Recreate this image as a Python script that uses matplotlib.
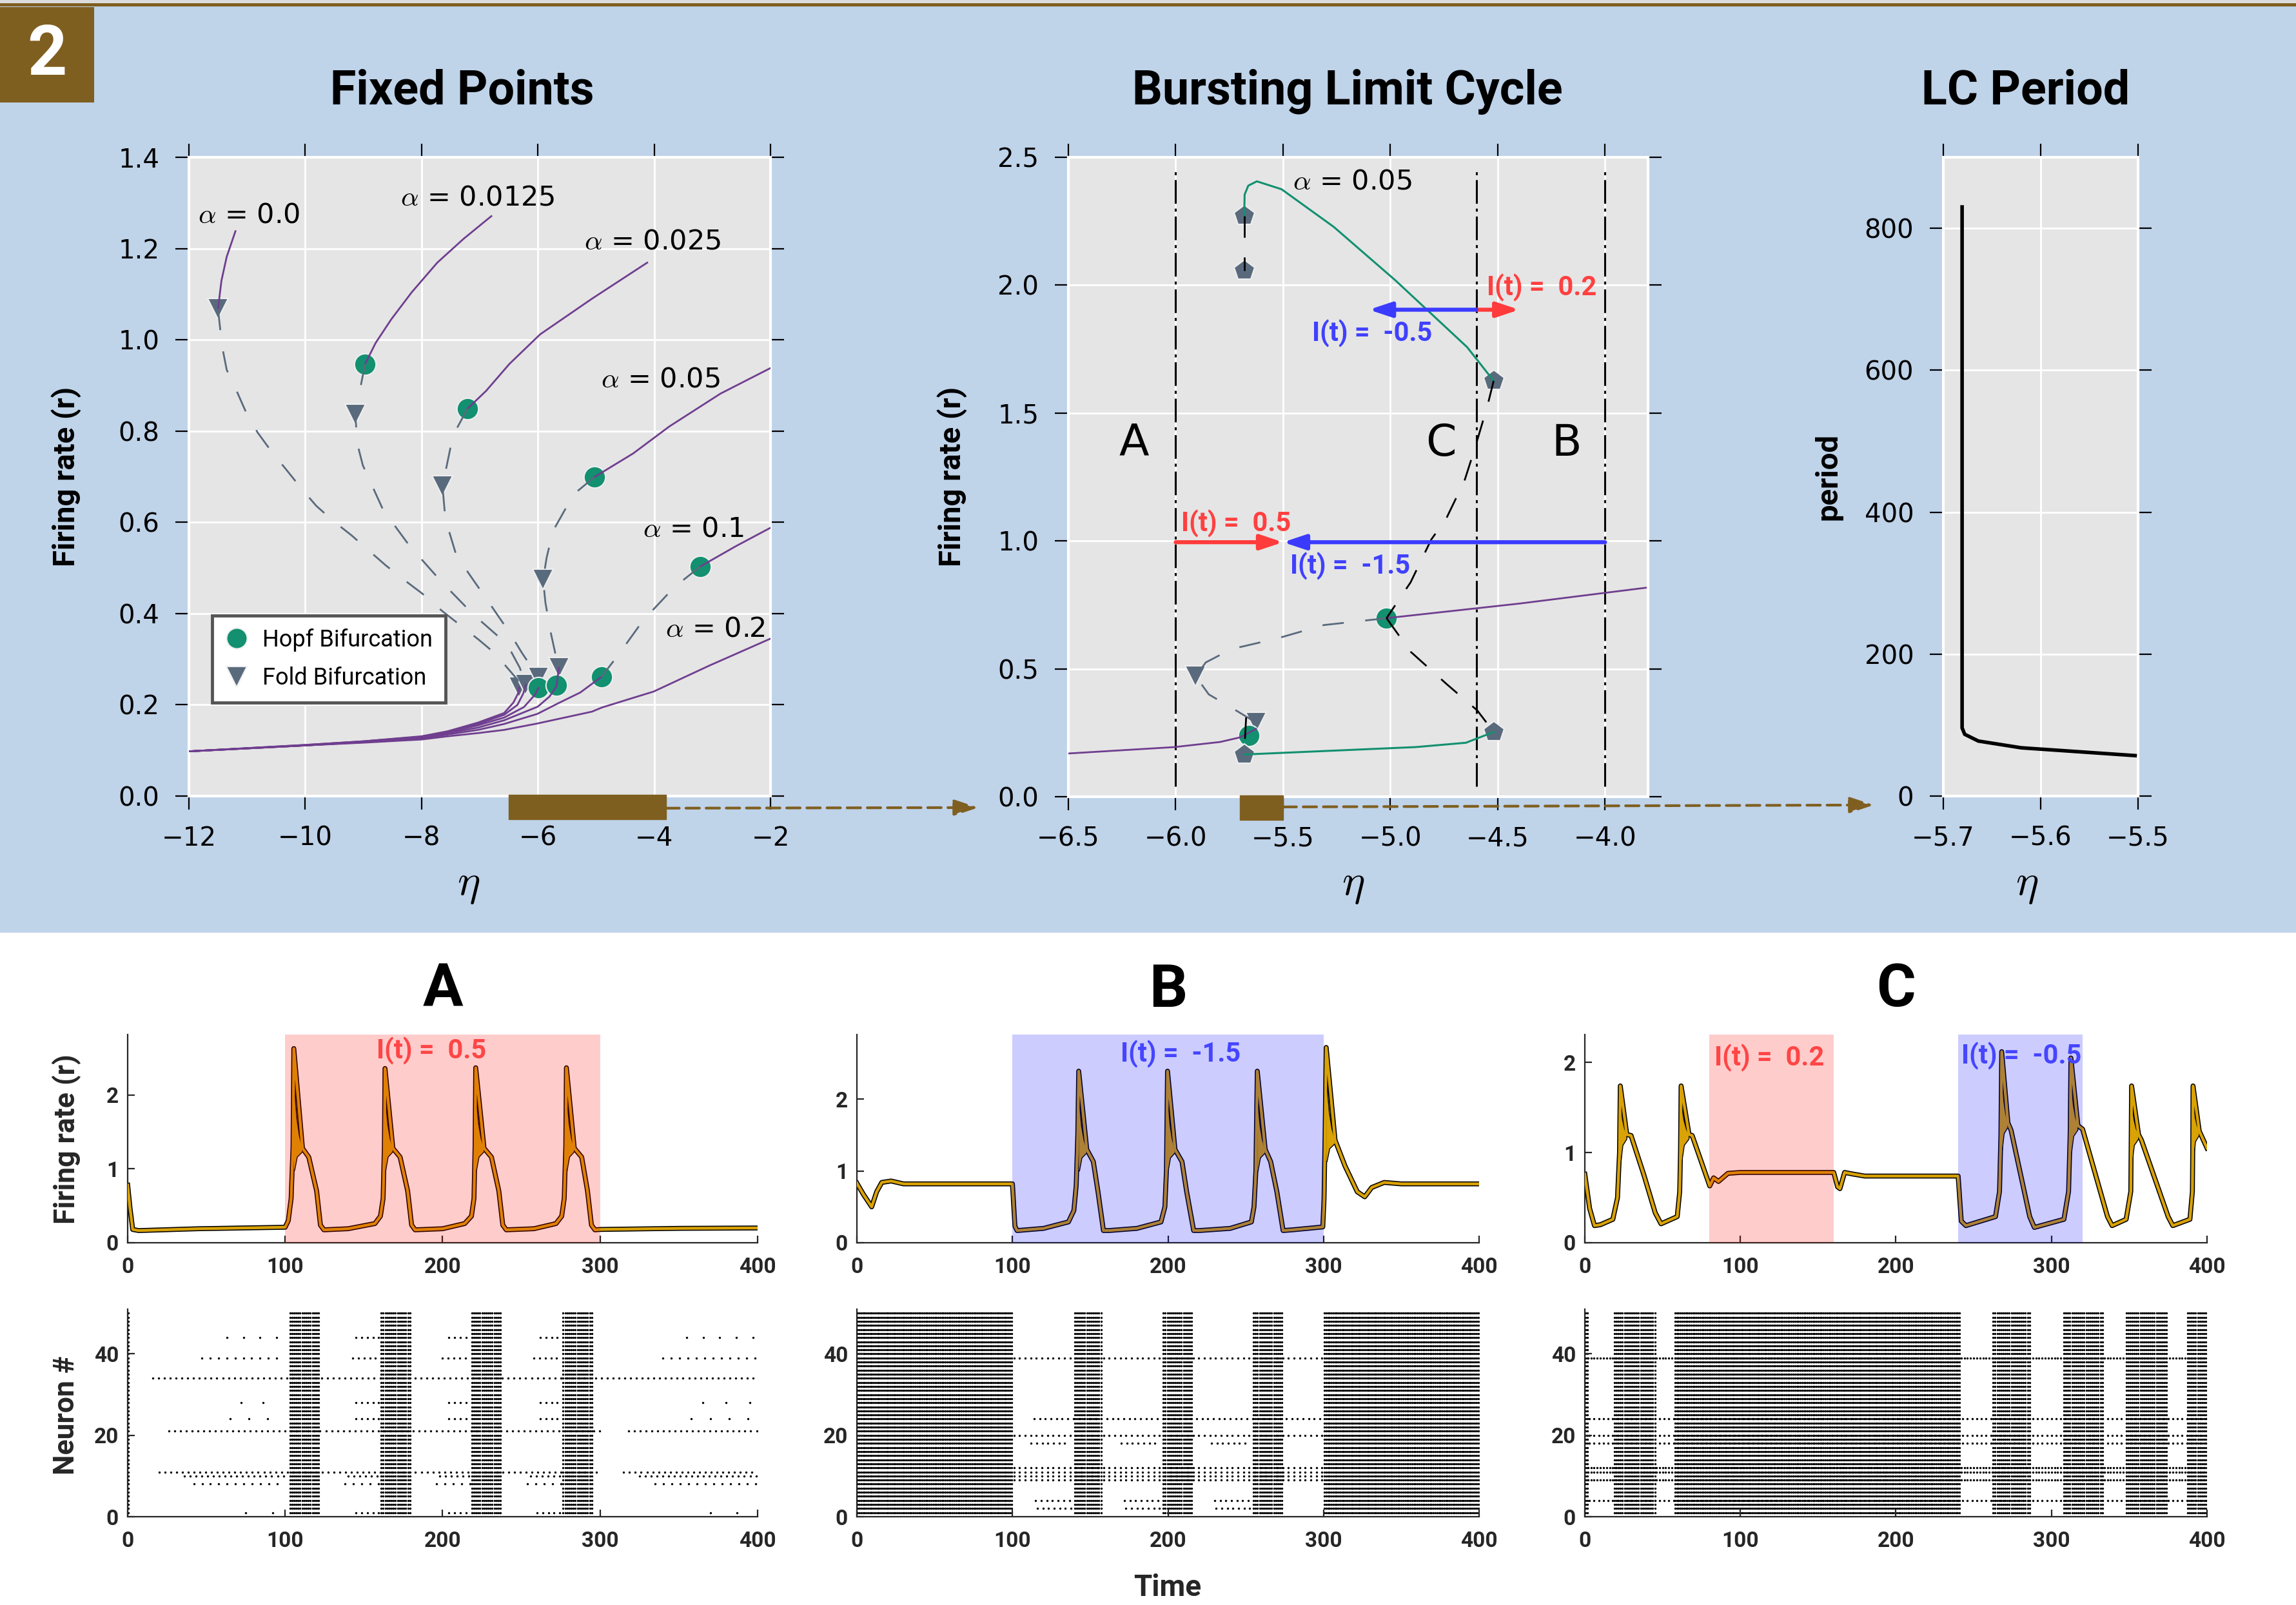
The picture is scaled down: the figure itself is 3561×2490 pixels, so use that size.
import numpy as np
import matplotlib
matplotlib.use("Agg")
import matplotlib.pyplot as plt
from matplotlib.patches import Rectangle, Polygon, ConnectionPatch
from matplotlib.lines import Line2D
from matplotlib.font_manager import FontProperties

plt.rcParams["font.family"] = ["DejaVu Sans"]
plt.rcParams["mathtext.fontset"] = "cm"

# ---------------- Fixed Points (one entry per alpha) ----------------
alpha_text = ["0.0", "0.0125", "0.025", "0.05", "0.1", "0.2"]
label_eta = [-11.84, -8.36, -5.20, -4.92, -4.20, -3.81]
label_r = [1.273, 1.312, 1.215, 0.914, 0.585, 0.366]

upper_eta = [
    [-11.20, -11.35, -11.44, -11.50],
    [-6.80, -7.28, -7.73, -8.17, -8.52, -8.79, -8.97],
    [-4.12, -5.07, -5.96, -6.49, -6.89, -7.21],
    [-2.0, -2.86, -3.74, -4.36, -5.03],
    [-2.0, -2.59, -3.21],
    [-2.0, -3.05, -4.01, -4.24, -4.90, -5.07, -6.01, -6.58, -7.03, -7.55, -8.0, -9.0, -10.0, -12.0],
]
upper_r = [
    [1.238, 1.182, 1.130, 1.068],
    [1.271, 1.221, 1.169, 1.104, 1.045, 0.993, 0.947],
    [1.169, 1.090, 1.012, 0.947, 0.888, 0.849],
    [0.938, 0.882, 0.810, 0.751, 0.699],
    [0.588, 0.548, 0.503],
    [0.345, 0.286, 0.229, 0.220, 0.194, 0.185, 0.159, 0.145, 0.138, 0.131, 0.124, 0.117, 0.111, 0.098],
]
middle_eta = [
    [-11.50, -11.43, -11.35, -11.18, -11.0, -10.82, -10.58, -10.33, -10.04, -9.81,
     -9.50, -9.20, -8.88, -8.61, -8.26, -7.99, -7.64, -7.35, -7.02, -6.74, -6.35, -6.32],
    [-8.97, -9.06, -9.14, -9.10, -9.01, -8.66, -8.21, -7.66, -7.11, -6.53, -6.31, -6.21],
    [-7.21, -7.46, -7.64, -7.59, -7.42, -7.20, -6.84, -6.49, -6.27, -5.99],
    [-5.03, -5.34, -5.51, -5.74, -5.85, -5.91, -5.87, -5.78, -5.69, -5.64],
    [-3.21, -3.66, -4.19, -4.63, -4.91],
    [],
]
middle_r = [
    [1.068, 0.986, 0.934, 0.888, 0.836, 0.797, 0.755, 0.716, 0.670, 0.636,
     0.601, 0.571, 0.535, 0.505, 0.470, 0.444, 0.405, 0.376, 0.343, 0.313, 0.255, 0.239],
    [0.947, 0.890, 0.836, 0.770, 0.725, 0.627, 0.549, 0.470, 0.398, 0.333, 0.281, 0.244],
    [0.849, 0.790, 0.679, 0.607, 0.535, 0.490, 0.424, 0.359, 0.313, 0.260],
    [0.699, 0.666, 0.633, 0.581, 0.522, 0.474, 0.424, 0.359, 0.307, 0.281],
    [0.503, 0.457, 0.385, 0.307, 0.261],
    [],
]
lower_eta = [
    [-12.0, -10.0, -9.0, -8.0, -7.55, -7.03, -6.58, -6.42, -6.34, -6.32],
    [-12.0, -10.0, -9.0, -8.0, -7.55, -7.03, -6.58, -6.35, -6.25, -6.21],
    [-12.0, -10.0, -9.0, -8.0, -7.55, -7.03, -6.58, -6.24, -6.05, -5.99],
    [-12.0, -10.0, -9.0, -8.0, -7.55, -7.03, -6.58, -6.00, -5.80, -5.68, -5.64],
    [-12.0, -10.0, -9.0, -8.0, -7.55, -7.03, -6.58, -6.01, -5.64, -5.27, -4.91],
    [],
]
lower_r = [
    [0.098, 0.112, 0.120, 0.131, 0.142, 0.161, 0.182, 0.205, 0.225, 0.239],
    [0.098, 0.112, 0.120, 0.130, 0.141, 0.158, 0.178, 0.200, 0.225, 0.244],
    [0.098, 0.111, 0.119, 0.129, 0.140, 0.155, 0.172, 0.195, 0.222, 0.237],
    [0.098, 0.111, 0.119, 0.128, 0.138, 0.150, 0.166, 0.196, 0.218, 0.240, 0.281],
    [0.098, 0.111, 0.118, 0.126, 0.135, 0.145, 0.158, 0.180, 0.204, 0.227, 0.261],
    [],
]
hopf_eta = [-8.97, -7.21, -5.03, -3.21, -5.99, -5.68, -4.91]
hopf_r = [0.947, 0.849, 0.699, 0.503, 0.237, 0.243, 0.261]
fold_eta = [-11.50, -9.14, -7.64, -5.91, -6.32, -6.21, -5.99, -5.64]
fold_r = [1.068, 0.836, 0.679, 0.474, 0.239, 0.244, 0.260, 0.281]

# ---------------- Bursting limit cycle (alpha = 0.05) ----------------
lc_up_eta = [-5.681, -5.679, -5.662, -5.622, -5.507, -5.264, -4.977, -4.643, -4.519]
lc_up_r = [2.270, 2.354, 2.389, 2.406, 2.375, 2.228, 2.019, 1.758, 1.626]
lc_low_eta = [-5.681, -4.882, -4.648, -4.519]
lc_low_r = [0.165, 0.194, 0.211, 0.253]
ulc_up_eta = [-4.519, -4.548, -4.607, -4.655, -4.739, -4.810, -4.906, -5.018]
ulc_up_r = [1.626, 1.528, 1.361, 1.235, 1.089, 1.005, 0.838, 0.698]
ulc_low_eta = [-5.018, -4.906, -4.739, -4.595, -4.519]
ulc_low_r = [0.698, 0.567, 0.441, 0.337, 0.253]
ulc_top_eta = [-5.681, -5.681]
ulc_top_r = [2.270, 2.056]
ulc_bot_eta = [-5.672, -5.681]
ulc_bot_r = [0.310, 0.165]
lc_pent_eta = [-5.681, -5.681, -4.519, -5.681, -4.519]
lc_pent_r = [2.270, 2.056, 1.626, 0.165, 0.253]
fp05_up_eta = [-3.81, -4.40, -5.018]
fp05_up_r = [0.817, 0.755, 0.698]
fp05_mid_eta = [-5.018, -5.311, -5.526, -5.741, -5.860, -5.907, -5.846, -5.750, -5.626]
fp05_mid_r = [0.698, 0.671, 0.619, 0.577, 0.525, 0.471, 0.400, 0.353, 0.290]
fp05_low_eta = [-6.5, -6.006, -5.793, -5.70, -5.626]
fp05_low_r = [0.169, 0.194, 0.214, 0.232, 0.265]
lc_hopf_eta = [-5.018, -5.659]
lc_hopf_r = [0.698, 0.240]
lc_fold_eta = [-5.907, -5.626]
lc_fold_r = [0.471, 0.290]
region_eta = [-6.0, -4.6, -4.0]
region_names = ["A", "C", "B"]
stim_start = [-4.6, -4.6, -6.0, -4.0]
stim_level = [0.2, -0.5, 0.5, -1.5]
stim_r = [1.904, 1.904, 0.995, 0.995]

# ---------------- LC period ----------------
period_eta = [-5.6807, -5.6807, -5.678, -5.664, -5.620, -5.503]
period_T = [830, 96, 87, 77.5, 68, 57]

# ---------------- bottom: firing-rate traces (t, r) ----------------
ts_A_t = [0, 1.5, 3.2, 7, 45, 100, 102, 103.8, 105, 105.5, 111, 115, 120, 122.4, 124.6,
          140, 157, 160.5, 162.2, 163, 163.4, 168.4, 173, 177.8, 180.3, 182.5,
          200, 214, 218.3, 219.9, 220.6, 221, 226.3, 231, 235.7, 238.2, 240.4,
          258, 272, 275.6, 277.2, 278.2, 278.6, 283.6, 288.3, 292, 294.5, 296.7,
          300, 350, 400]
ts_A_r = [0.78, 0.47, 0.18, 0.165, 0.19, 0.21, 0.30, 0.60, 1.30, 2.63, 1.28, 1.16, 0.70, 0.24, 0.175,
          0.19, 0.26, 0.36, 0.60, 1.30, 2.36, 1.28, 1.16, 0.70, 0.24, 0.175,
          0.19, 0.26, 0.36, 0.60, 1.30, 2.37, 1.28, 1.16, 0.70, 0.24, 0.175,
          0.19, 0.26, 0.36, 0.60, 1.30, 2.37, 1.28, 1.16, 0.70, 0.24, 0.175,
          0.18, 0.195, 0.20]
osc_A = [(105.5, 2.63, 111, 1.28), (163.4, 2.36, 168.4, 1.28),
         (221, 2.37, 226.3, 1.28), (278.6, 2.37, 283.6, 1.28)]
ts_B_t = [0, 4, 9.5, 12.7, 16, 22, 30, 100, 101.6, 103, 120, 136, 139.5, 141, 142, 142.6,
          147.8, 152, 155, 158.5, 162, 180, 195.5, 198, 199, 199.7, 204.5, 209, 212, 216.5,
          220, 240, 253.6, 255.3, 256.5, 257.4, 262.5, 266, 270, 274, 280, 299.5, 300.3, 301,
          301.7, 307.4, 313.8, 321.7, 326.5, 331, 339, 350, 400]
ts_B_r = [0.83, 0.68, 0.50, 0.71, 0.84, 0.86, 0.82, 0.82, 0.23, 0.17, 0.20, 0.29, 0.45, 0.80, 1.50, 2.39,
          1.30, 1.13, 0.71, 0.17, 0.17, 0.20, 0.29, 0.50, 1.00, 2.39, 1.30, 1.13, 0.71, 0.17,
          0.17, 0.20, 0.29, 0.50, 1.00, 2.39, 1.30, 1.13, 0.71, 0.17, 0.18, 0.22, 0.60, 1.50,
          2.72, 1.43, 1.07, 0.71, 0.64, 0.77, 0.84, 0.82, 0.82]
osc_B = [(142.6, 2.39, 147.8, 1.30), (199.7, 2.39, 204.5, 1.30),
         (257.4, 2.39, 262.5, 1.30), (301.7, 2.72, 307.4, 1.43)]
ts_C_t = [0, 3.1, 6.2, 10, 18, 21, 22.3, 22.8, 27, 29.7, 38, 45.3, 49, 59.4, 61, 61.5, 61.9,
          67, 69, 80.3, 82.8, 85.9, 92, 100, 160, 162.5, 164, 167, 173, 180, 240,
          242, 245, 264, 266.6, 267.5, 268, 272, 274, 286, 289, 308, 311, 312, 312.5, 317, 320,
          336, 339, 348, 351, 351.2, 351.5, 356, 357.8, 375, 378, 389, 390.6, 390.8, 391, 395, 400]
ts_C_r = [0.76, 0.38, 0.19, 0.20, 0.26, 0.50, 1.00, 1.74, 1.20, 1.19, 0.75, 0.33, 0.21, 0.29, 0.57, 1.00, 1.74,
          1.20, 1.19, 0.63, 0.72, 0.68, 0.77, 0.78, 0.78, 0.62, 0.60, 0.78, 0.76, 0.74, 0.74,
          0.24, 0.19, 0.29, 0.57, 1.20, 2.12, 1.33, 1.25, 0.29, 0.17, 0.26, 0.57, 1.20, 2.05, 1.30, 1.26,
          0.29, 0.19, 0.26, 0.57, 1.00, 1.74, 1.20, 1.14, 0.29, 0.19, 0.26, 0.57, 1.00, 1.74, 1.24, 1.05]
osc_C = [(22.8, 1.74, 27, 1.20), (61.9, 1.74, 67, 1.20), (268, 2.12, 272, 1.33),
         (312.5, 2.05, 317, 1.30), (351.5, 1.74, 356, 1.20), (391, 1.74, 395, 1.24)]
ymax_ts = [2.82, 2.90, 2.31]

stim_A = [(100, 300, 0.5)]
stim_B = [(100, 300, -1.5)]
stim_C = [(80, 160, 0.2), (240, 320, -0.5)]

# ---------------- bottom: rasters ----------------
# windows in which all 50 neurons fire: (start, end, inter-spike interval)
raster_A_all = [(0.5, 2.0, 1.5), (103.0, 121.5, 1.3), (161.0, 180.0, 1.3), (218.5, 238.0, 1.3), (276.5, 295.5, 1.3)]
raster_B_all = [(0.5, 100.5, 1.15), (140.0, 157.5, 1.3), (197.0, 215.5, 1.3), (255.0, 273.5, 1.3), (300.5, 400.0, 1.15)]
raster_C_all = [(0.5, 3.0, 1.3), (19.0, 45.5, 1.3), (58.0, 242.0, 1.15), (262.5, 286.0, 1.3),
                (308.0, 333.0, 1.3), (348.0, 375.0, 1.3), (387.5, 400.0, 1.3)]
# single neurons firing outside bursts: (neuron, start, end, interval)
raster_A_rows = [
    (44, 63, 100, 10.5), (44, 145, 160, 3.6), (44, 204, 218, 3.6), (44, 262, 276, 3.6), (44, 355, 400, 10.5),
    (39, 47, 100, 5.3), (39, 143, 160, 3.6), (39, 200, 218, 3.6), (39, 258, 276, 3.6), (39, 340, 400, 5.3),
    (34, 16, 400, 3.7),
    (28, 72, 90, 14.0), (28, 145, 160, 3.6), (28, 204, 218, 3.6), (28, 262, 276, 3.6), (28, 365, 400, 15.0),
    (24, 65, 100, 12.0), (24, 145, 160, 3.6), (24, 204, 218, 3.6), (24, 262, 276, 3.6), (24, 358, 400, 12.0),
    (21, 26, 300, 3.7), (21, 318, 400, 3.7),
    (11, 20, 300, 3.7), (11, 315, 400, 3.7),
    (10, 36, 100, 3.7), (10, 140, 160, 3.7), (10, 198, 218, 3.7), (10, 256, 276, 3.7), (10, 325, 400, 3.7),
    (8, 42, 100, 5.3), (8, 138, 160, 5.3), (8, 196, 218, 5.3), (8, 254, 276, 5.3), (8, 335, 400, 5.3),
    (1, 75, 95, 17.0), (1, 145, 160, 3.6), (1, 204, 218, 3.6), (1, 260, 276, 3.6), (1, 370, 390, 17.0),
]
raster_B_rows = [
    (39, 101, 300, 3.6), (24, 114, 300, 3.6), (20, 101, 300, 3.6),
    (18, 112, 136, 3.6), (18, 170, 195, 3.6), (18, 228, 253, 3.6),
    (12, 101, 300, 3.6), (11, 101, 300, 3.6), (10, 101, 300, 3.6), (9, 101, 300, 3.6),
    (4, 115, 139, 3.6), (4, 172, 196, 3.6), (4, 230, 254, 3.6),
    (2, 116, 139, 3.6), (2, 173, 196, 3.6), (2, 231, 254, 3.6),
]
raster_C_rows = [
    (39, 0, 400, 2.0), (24, 0, 400, 3.0), (20, 0, 400, 3.0), (18, 0, 400, 3.0),
    (12, 0, 400, 2.0), (11, 0, 400, 2.0), (9, 0, 400, 2.0), (4, 0, 400, 3.0),
]
n_neurons = 50

# ---------------- styling ----------------
W, H = 3562, 2490
BLUE_BG = "#bfd3e9"
BROWN = "#7f5f20"
PURPLE = "#6f3e8f"
GREEN = "#12906f"
SLATE = "#5a6a7d"
GOLD = "#d9a205"
DARK = "#262626"
ROBOTO = ["Roboto", "DejaVu Sans"]

fig = plt.figure(figsize=(W / 100, H / 100), dpi=100, facecolor="white")


def fx(x):
    return x / W


def fy(y):
    return 1 - y / H


def add_ax(x0, y0, x1, y1):
    return fig.add_axes([fx(x0), fy(y1), (x1 - x0) / W, (y1 - y0) / H])


def band(y0, y1, color, x1=W, z=-3):
    fig.add_artist(Rectangle((0, fy(y1)), x1 / W, (y1 - y0) / H, transform=fig.transFigure,
                             color=color, lw=0, zorder=z))


band(0, 5, "#dcdcdc")
band(5, 10, BROWN)
band(10, 1447, BLUE_BG)
band(11, 159, BROWN, x1=146, z=-2)
fig.text(fx(73), fy(86), "2", color="white", fontsize=77, fontweight="bold", family=ROBOTO,
         ha="center", va="center")


def style_top(ax):
    ax.set_facecolor("#e5e5e5")
    for s in ax.spines.values():
        s.set_color("white")
        s.set_linewidth(3)
    ax.grid(True, color="white", lw=2)
    ax.set_axisbelow(True)
    ax.tick_params(direction="out", length=15, width=1.6, color="black", pad=18,
                   labelsize=29, top=True, right=True)


ls_dash = (0, (12, 12))
mk = dict(mec="#eeeeee", mew=1.5, zorder=3)

# ---- panel 1: fixed points ----
ax1 = add_ax(293, 244, 1195, 1235)
style_top(ax1)
for i, a in enumerate(alpha_text):
    ax1.plot(upper_eta[i], upper_r[i], color=PURPLE, lw=2, zorder=4)
    ax1.plot(lower_eta[i], lower_r[i], color=PURPLE, lw=2, zorder=4)
    ax1.plot(middle_eta[i], middle_r[i], color=SLATE, lw=2, ls=ls_dash, zorder=4)
    ax1.text(label_eta[i], label_r[i], r"$\alpha$ = " + a, fontsize=31, va="center", ha="left")
ax1.plot(fold_eta, fold_r, "v", ms=23, color=SLATE, **mk)
ax1.plot(hopf_eta, hopf_r, "o", ms=24, color=GREEN, **mk)
ax1.set_xlim(-12, -2)
ax1.set_ylim(0, 1.4)
ax1.set_xticks(range(-12, -1, 2))
ax1.set_yticks([0.0, 0.2, 0.4, 0.6, 0.8, 1.0, 1.2, 1.4])
handles = [Line2D([], [], ls="none", marker="o", ms=23, color=GREEN, mec="#eeeeee", mew=1.5),
           Line2D([], [], ls="none", marker="v", ms=23, color=SLATE, mec="#eeeeee", mew=1.5)]
leg = ax1.legend(handles, ["Hopf Bifurcation", "Fold Bifurcation"], loc="lower left",
                 bbox_to_anchor=(0.02, 0.128), prop=FontProperties(family=ROBOTO, size=26),
                 frameon=True, fancybox=False, framealpha=1, facecolor="white", edgecolor="#555555",
                 handlelength=1.0, handletextpad=0.6, borderpad=0.55, labelspacing=0.65)
leg.get_frame().set_linewidth(3.5)

# ---- panel 2: bursting limit cycle ----
ax2 = add_ax(1657, 244, 2556, 1236)
style_top(ax2)
for e in region_eta:
    ax2.axvline(e, ymin=0.016, ymax=0.98, color="black", lw=2.2, ls=(0, (12, 2.5, 1.5, 2.5)), zorder=2)
ax2.plot(fp05_up_eta, fp05_up_r, color=PURPLE, lw=2, zorder=4)
ax2.plot(fp05_low_eta, fp05_low_r, color=PURPLE, lw=2, zorder=4)
ax2.plot(fp05_mid_eta, fp05_mid_r, color=SLATE, lw=2, ls=ls_dash, zorder=4)
ax2.plot(lc_up_eta, lc_up_r, color=GREEN, lw=2.2, zorder=4)
ax2.plot(lc_low_eta, lc_low_r, color=GREEN, lw=2.2, zorder=4)
for xs, ys in [(ulc_up_eta, ulc_up_r), (ulc_low_eta, ulc_low_r), (ulc_top_eta, ulc_top_r), (ulc_bot_eta, ulc_bot_r)]:
    ax2.plot(xs, ys, color="black", lw=2, ls=(0, (12, 11)), zorder=4)
ax2.plot(lc_fold_eta, lc_fold_r, "v", ms=23, color=SLATE, **mk)
ax2.plot(lc_hopf_eta, lc_hopf_r, "o", ms=24, color=GREEN, **mk)
ax2.plot(lc_pent_eta, lc_pent_r, "p", ms=24, color=SLATE, **mk)
for s0, lev, rr in zip(stim_start, stim_level, stim_r):
    col = "#ff3b3b" if lev > 0 else "#3b3bff"
    ax2.annotate("", xy=(s0 + lev, rr), xytext=(s0, rr), zorder=6,
                 arrowprops=dict(arrowstyle="-|>,head_length=0.6,head_width=0.2", color=col, lw=4.5,
                                 mutation_scale=35, shrinkA=0, shrinkB=0))
stim_text_pos = [(-4.55, 1.99), (-5.366, 1.81), (-5.973, 1.068), (-5.467, 0.901)]
for (tx, ty), lev in zip(stim_text_pos, stim_level):
    ax2.text(tx, ty, f"I(t) =  {lev}", color="#ff4040" if lev > 0 else "#4040ff", fontsize=30,
             family=ROBOTO, fontweight="bold", va="center", ha="left", zorder=7)
for name, ex in zip(region_names, [-6.195, -4.763, -4.178]):
    ax2.text(ex, 1.382, name, fontsize=49, ha="center", va="center")
ax2.text(-5.455, 2.406, r"$\alpha$ = 0.05", fontsize=31, va="center", ha="left")
ax2.set_xlim(-6.5, -3.8)
ax2.set_ylim(0, 2.5)
ax2.set_xticks([-6.5, -6.0, -5.5, -5.0, -4.5, -4.0])
ax2.set_yticks([0.0, 0.5, 1.0, 1.5, 2.0, 2.5])

# ---- panel 3: LC period ----
ax3 = add_ax(3014, 244, 3316, 1235)
style_top(ax3)
ax3.plot(period_eta, period_T, color="black", lw=4, zorder=4)
ax3.set_xlim(-5.7, -5.5)
ax3.set_ylim(0, 900)
ax3.set_xticks([-5.7, -5.6, -5.5])
ax3.set_yticks([0, 200, 400, 600, 800])

# zoom bars and dashed arrows between panels
for axA, lo, hi in [(ax1, -6.5, -3.8), (ax2, -5.7, -5.5)]:
    axA.add_patch(Rectangle((lo, -0.036), hi - lo, 0.038, transform=axA.get_xaxis_transform(),
                            color=BROWN, clip_on=False, zorder=8))
for axA, hiA, axB, tipB, yA, yB in [(ax1, -3.8, ax2, -6.92, -0.019, -0.017),
                                      (ax2, -5.5, ax3, -5.7715, -0.016, -0.014)]:
    con = ConnectionPatch(xyA=(hiA, yA), coordsA=axA.get_xaxis_transform(),
                          xyB=(tipB, yB), coordsB=axB.get_xaxis_transform(),
                          arrowstyle="-|>,head_length=0.9,head_width=0.3", mutation_scale=25,
                          color=BROWN, lw=3, ls=(0, (5, 2.5)), zorder=8)
    fig.add_artist(con)

# titles / labels for top row
for txt, x in [("Fixed Points", 717), ("Bursting Limit Cycle", 2090), ("LC Period", 3142)]:
    fig.text(fx(x), fy(142), txt, fontsize=53, fontweight="bold", family=ROBOTO, ha="center", va="center")
for x in [727, 2099, 3144]:
    fig.text(fx(x), fy(1372), r"$\eta$", fontsize=48, ha="center", va="center")
for txt, x in [("Firing rate (r)", 103), ("Firing rate (r)", 1477), ("period", 2836)]:
    fig.text(fx(x), fy(739), txt, fontsize=34, fontweight="bold", family=ROBOTO, rotation=90,
             ha="center", va="center")

# ---------------- bottom row ----------------
tick_fp = FontProperties(family=ROBOTO, weight="bold", size=24)


def style_bottom(ax):
    for s in ["top", "right"]:
        ax.spines[s].set_visible(False)
    for s in ["left", "bottom"]:
        ax.spines[s].set_color(DARK)
        ax.spines[s].set_linewidth(1.6)
    ax.tick_params(direction="in", length=8, width=1.6, color=DARK, labelcolor=DARK)
    ax.tick_params(axis="x", pad=16)
    ax.tick_params(axis="y", pad=10)
    for lab in ax.get_xticklabels() + ax.get_yticklabels():
        lab.set_fontproperties(tick_fp)


def burst_fill(ax, tp, rp, te, re):
    w = te - tp
    d = rp - re
    xs = [tp - 0.2, tp, tp + 0.12 * w, tp + 0.35 * w, tp + 0.65 * w, te, te, tp + 0.4 * w, tp + 0.1 * w]
    ys = [re - 0.3, rp, rp - 0.45 * d, rp - 0.7 * d, rp - 0.88 * d, re, re - 0.05, re - 0.12, re - 0.3]
    ax.add_patch(Polygon(np.column_stack([xs, ys]), closed=True, facecolor=GOLD, edgecolor="black",
                         lw=1.0, zorder=3))


def spikes(all_windows, rows):
    tt, nn = [], []
    for a, b, dt in all_windows:
        times = np.arange(a, b, dt)
        for n in range(1, n_neurons + 1):
            tt.append(times)
            nn.append(np.full(times.size, n))
    for n, a, b, dt in rows:
        times = np.arange(a, b, dt)
        tt.append(times)
        nn.append(np.full(times.size, n))
    return np.concatenate(tt), np.concatenate(nn)


ts_data = [(ts_A_t, ts_A_r, osc_A, stim_A), (ts_B_t, ts_B_r, osc_B, stim_B), (ts_C_t, ts_C_r, osc_C, stim_C)]
raster_data = [(raster_A_all, raster_A_rows), (raster_B_all, raster_B_rows), (raster_C_all, raster_C_rows)]
col_x = [(198, 1175), (1329, 2294), (2458, 3423)]
stim_label_pos = [[(158, 2.60)], [(169.6, 2.63)], [(83.4, 2.05), (242, 2.07)]]
titles = ["A", "B", "C"]

for k in range(3):
    x0, x1 = col_x[k]
    t, r, osc, stims = ts_data[k]
    ax = add_ax(x0, 1605, x1, 1928)
    ax.plot(t, r, color="black", lw=5.5, zorder=2, solid_joinstyle="round")
    for tp, rp, te, re in osc:
        burst_fill(ax, tp, rp, te, re)
    ax.plot(t, r, color=GOLD, lw=3.2, zorder=3, solid_joinstyle="round")
    for (a, b, lev), (tx, ty) in zip(stims, stim_label_pos[k]):
        ax.axvspan(a, b, color="red" if lev > 0 else "blue", alpha=0.2, lw=0, zorder=4)
        ax.text(tx, ty, f"I(t) =  {lev}", color="#ff4545" if lev > 0 else "#4545ff", fontsize=30,
                family=ROBOTO, fontweight="bold", va="center", ha="left", zorder=5)
    ax.set_xlim(0, 400)
    ax.set_ylim(0, ymax_ts[k])
    ax.set_xticks([0, 100, 200, 300, 400])
    ax.set_yticks([0, 1, 2])
    style_bottom(ax)

    rax = add_ax(x0, 2031, x1, 2353)
    st, sn = spikes(*raster_data[k])
    rax.scatter(st, sn, s=6, c="black", marker="o", linewidths=0)
    rax.set_xlim(0, 400)
    rax.set_ylim(0, 51)
    rax.set_xticks([0, 100, 200, 300, 400])
    rax.set_yticks([0, 20, 40])
    style_bottom(rax)

    fig.text(fx((x0 + x1) / 2), fy(1536), titles[k], fontsize=67, fontweight="bold", family=ROBOTO,
             ha="center", va="center")

fig.text(fx(103), fy(1767), "Firing rate (r)", fontsize=32, fontweight="bold", family=ROBOTO,
         rotation=90, ha="center", va="center", color=DARK)
fig.text(fx(103), fy(2196), "Neuron #", fontsize=32, fontweight="bold", family=ROBOTO,
         rotation=90, ha="center", va="center", color=DARK)
fig.text(fx(1811), fy(2463), "Time", fontsize=33, fontweight="bold", family=ROBOTO,
         ha="center", va="center", color=DARK)

fig.savefig("out.png", dpi=100, facecolor="white")
